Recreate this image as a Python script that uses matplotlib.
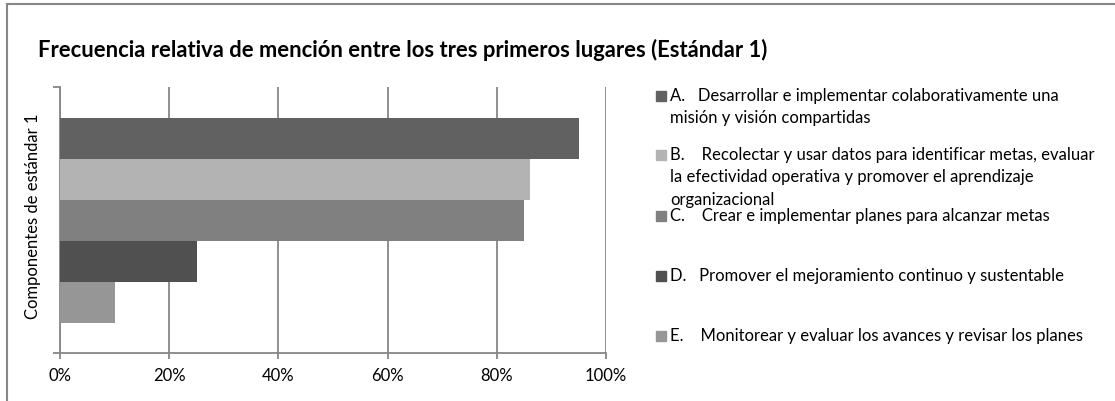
import matplotlib
matplotlib.use("Agg")
import matplotlib.pyplot as plt
from matplotlib.patches import Rectangle
import numpy as np

plt.rcParams['font.family'] = ['Lato', 'DejaVu Sans']

# Data
components = ["A", "B", "C", "D", "E"]
values = [0.95, 0.86, 0.85, 0.25, 0.10]
colors = ["#616161", "#b3b3b3", "#808080", "#505050", "#969696"]
legend_labels = [
    "A.   Desarrollar e implementar colaborativamente una\nmisión y visión compartidas",
    "B.    Recolectar y usar datos para identificar metas, evaluar\nla efectividad operativa y promover el aprendizaje\norganizacional",
    "C.    Crear e implementar planes para alcanzar metas",
    "D.   Promover el mejoramiento continuo y sustentable",
    "E.    Monitorear y evaluar los avances y revisar los planes",
]
xticks = [0, 0.2, 0.4, 0.6, 0.8, 1.0]
xtick_labels = ["0%", "20%", "40%", "60%", "80%", "100%"]

W, H = 1115, 401
fig = plt.figure(figsize=(W / 100, H / 100), dpi=100)

# outer chart border (runs off the right and bottom edges)
fig.patches.append(Rectangle((6.5 / W, -0.05), 1.2, (H - 3.5) / H + 0.05,
                             transform=fig.transFigure, fill=False,
                             edgecolor="#868686", linewidth=1.5))

ax_l, ax_r, ax_t, ax_b = 60, 606, 87, 353
ax = fig.add_axes([ax_l / W, (H - ax_b) / H, (ax_r - ax_l) / W, (ax_b - ax_t) / H])

h = 41 / 266
offsets = np.array([2, 1, 0, -1, -2]) * h
for val, col, off in zip(values, colors, offsets):
    ax.barh(off, val, height=h, color=col, zorder=3)

ax.set_xlim(0, 1)
ax.set_ylim(-0.5, 0.5)
ax.set_xticks(xticks)
ax.set_xticklabels(xtick_labels, fontsize=12)
ax.set_yticks([-0.5, 0.5])
ax.set_yticklabels([])
ax.grid(axis="x", color="#868686", linewidth=1.3, zorder=0)
for s in ["top", "right"]:
    ax.spines[s].set_visible(False)
for s in ["left", "bottom"]:
    ax.spines[s].set_color("#868686")
    ax.spines[s].set_linewidth(1.3)
ax.tick_params(axis="x", length=4, color="#868686", width=1.3, pad=7)
ax.tick_params(axis="y", length=5, color="#868686", width=1.3)

fig.text(33 / W, 1 - 216 / H, "Componentes de estándar 1", fontsize=12,
         rotation=90, ha="center", va="center")

fig.text(38 / W, 1 - 50 / H, "Frecuencia relativa de mención entre los tres primeros lugares (Estándar 1)",
         fontsize=15.8, fontweight="bold", ha="left", va="center")

# legend drawn by hand to keep the original spacing
entry_y = [96, 155, 216, 276, 336]
for lab, col, y in zip(legend_labels, colors, entry_y):
    fig.patches.append(Rectangle((656 / W, 1 - (y + 5) / H), 10 / W, 10 / H,
                                 transform=fig.transFigure, color=col))
    fig.text(670 / W, 1 - (y - 8) / H, lab, fontsize=12, ha="left", va="top",
             linespacing=1.5)

fig.savefig("out.png", dpi=100)
